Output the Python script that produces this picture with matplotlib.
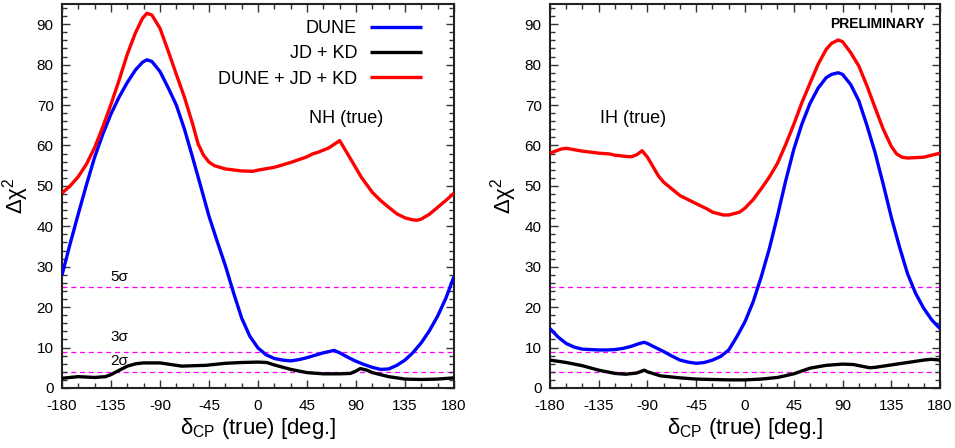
import matplotlib
matplotlib.use("Agg")
import matplotlib.pyplot as plt
from matplotlib.ticker import MultipleLocator

plt.rcParams['font.family'] = ['Liberation Sans', 'DejaVu Sans']
plt.rcParams['mathtext.fontset'] = 'custom'
plt.rcParams['mathtext.rm'] = 'Liberation Sans'
plt.rcParams['mathtext.it'] = 'Liberation Sans:italic'
plt.rcParams['axes.unicode_minus'] = False

# ---------------- data ----------------
# NH (true)
nh_dune_x = [-180, -172.5, -165, -157.5, -150, -142.5, -135, -127.5, -120, -112.5, -106, -102, -97.5, -90,
             -82.5, -75, -67.5, -60, -52.5, -45, -37.5, -30, -22.5, -15, -7.5, 0,
             7.5, 15, 22.5, 30, 37.5, 45, 52.5, 60, 65, 70, 75, 82.5, 90, 97.5, 105, 112.5, 120,
             127.5, 135, 142.5, 150, 157.5, 165, 172.5, 180]
nh_dune_y = [27.9, 35.7, 43.1, 50.3, 57.1, 62.8, 67.8, 72.0, 75.6, 78.7, 80.6, 81.2, 80.8, 78.3,
             74.3, 70.0, 64.0, 57.0, 49.8, 42.5, 36.3, 30.3, 23.6, 17.3, 12.8, 9.9,
             8.2, 7.3, 6.9, 6.7, 7.0, 7.5, 8.1, 8.7, 9.0, 9.3, 8.7, 7.6, 6.6, 5.8, 5.1, 4.6, 4.7,
             5.6, 6.9, 8.8, 11.2, 14.2, 17.8, 22.2, 27.6]

nh_comb_x = [-180, -172.5, -165, -157.5, -150, -142.5, -135, -127.5, -120, -112.5, -106, -102, -97.5, -90,
             -82.5, -75, -67.5, -60, -55, -50, -45, -40, -30, -15, -5, 0,
             15, 30, 45, 50, 55, 65, 75, 83, 90, 95, 105, 112.5, 120, 127.5, 135, 142, 146, 150,
             157.5, 165, 172.5, 180]
nh_comb_y = [48.2, 50.0, 52.3, 55.4, 59.5, 64.6, 70.2, 76.2, 82.6, 87.9, 91.5, 92.7, 92.3, 89.0,
             83.4, 77.6, 71.9, 65.3, 60.4, 57.6, 55.9, 55.0, 54.2, 53.7, 53.6, 53.9,
             54.6, 55.8, 57.2, 57.9, 58.3, 59.4, 61.2, 57.6, 54.4, 52.1, 48.4, 46.4, 44.7, 43.1, 42.1, 41.6, 41.5, 41.8,
             43.0, 44.7, 46.4, 48.2]

nh_jdkd_x = [-180, -165, -150, -140, -135, -128, -120, -112, -105, -90, -80, -70, -60, -48, -30, -15, 0, 8,
             15, 30, 45, 60, 75, 85, 90, 94, 100, 105, 120, 135, 150, 165, 180]
nh_jdkd_y = [2.4, 2.8, 2.6, 2.8, 3.3, 4.3, 5.4, 6.0, 6.2, 6.2, 5.8, 5.4, 5.5, 5.6, 6.1, 6.3, 6.4, 6.3,
             5.7, 4.6, 3.8, 3.5, 3.5, 3.6, 4.2, 4.8, 4.4, 3.8, 2.8, 2.2, 2.1, 2.2, 2.5]

# IH (true)
ih_dune_x = [-180, -172.5, -165, -157.5, -150, -142.5, -135, -127.5, -120, -112.5, -105, -97.5, -93, -90,
             -82.5, -75, -67.5, -60, -52.5, -45, -37.5, -30, -22.5, -15, -7.5, 0,
             7.5, 15, 22.5, 30, 37.5, 45, 52.5, 60, 67.5, 75, 80, 86, 90, 97.5, 105, 112.5, 120,
             127.5, 135, 142.5, 150, 157.5, 165, 172.5, 180]
ih_dune_y = [14.7, 12.6, 11.0, 10.1, 9.6, 9.5, 9.4, 9.4, 9.5, 9.8, 10.3, 11.0, 11.3, 11.0,
             10.0, 9.0, 7.9, 6.9, 6.4, 6.1, 6.3, 6.9, 7.8, 9.4, 12.7, 16.4,
             21.3, 27.5, 34.5, 42.6, 51.2, 59.0, 65.3, 70.4, 74.2, 76.8, 77.6, 78.0, 77.6, 75.1, 71.1, 65.0, 58.3,
             50.5, 42.3, 35.0, 28.3, 23.4, 19.7, 16.8, 14.7]

ih_comb_x = [-180, -170, -165, -150, -135, -125, -120, -110, -105, -100, -95, -90, -80, -75, -60, -45, -35,
             -30, -20, -15, -5, 0, 7.5, 15, 22.5, 30, 37.5, 45, 52.5, 60, 67.5, 75, 80, 86, 90, 97.5, 105,
             112.5, 120, 127.5, 135, 140, 145, 150, 165, 180]
ih_comb_y = [58.1, 59.1, 59.3, 58.6, 58.1, 57.9, 57.6, 57.3, 57.2, 57.7, 58.7, 57.1, 52.5, 50.9, 47.6, 45.6, 44.3,
             43.5, 42.8, 42.8, 43.5, 44.5, 46.6, 49.3, 52.2, 55.6, 60.2, 65.2, 70.6, 75.4, 80.1, 83.8, 85.3, 86.1, 85.7, 83.0, 79.7,
             74.8, 69.4, 64.1, 59.8, 57.9, 57.1, 56.9, 57.1, 58.1]

ih_jdkd_x = [-180, -165, -150, -135, -120, -110, -100, -93, -90, -78, -60, -45, -30, -15, 0, 15, 30, 45,
             60, 75, 90, 100, 115, 120, 135, 150, 165, 172, 180]
ih_jdkd_y = [6.9, 6.3, 5.5, 4.4, 3.6, 3.4, 3.7, 4.4, 4.0, 3.0, 2.5, 2.2, 2.1, 2.0, 2.0, 2.2, 2.6, 3.5,
             4.9, 5.6, 5.9, 5.8, 5.0, 5.1, 5.7, 6.3, 6.9, 7.1, 6.9]

sigma_levels = [4, 9, 25]
sigma_labels = ['2σ', '3σ', '5σ']
xticks = [-180, -135, -90, -45, 0, 45, 90, 135, 180]
yticks = [0, 10, 20, 30, 40, 50, 60, 70, 80, 90]
series_labels = ['DUNE', 'JD + KD', 'DUNE + JD + KD']
series_colors = ['#0000ff', '#000000', '#ff0000']

# ---------------- figure ----------------
fig = plt.figure(figsize=(9.55, 4.48), dpi=100)
ax1 = fig.add_axes([0.0649, 0.134, 0.4105, 0.857])
ax2 = fig.add_axes([0.5759, 0.134, 0.4084, 0.857])


def style(ax):
    ax.set_xlim(-180, 180)
    ax.set_ylim(0, 95)
    ax.set_xticks(xticks)
    ax.set_yticks(yticks)
    ax.xaxis.set_minor_locator(MultipleLocator(15))
    ax.yaxis.set_minor_locator(MultipleLocator(2))
    ax.tick_params(which='both', direction='in', top=True, right=True, width=1.0, color='#333333')
    ax.tick_params(which='major', length=6, labelsize=11)
    ax.tick_params(which='minor', length=3.5)
    ax.tick_params(axis='x', pad=8)
    ax.tick_params(axis='y', pad=6)
    for s in ax.spines.values():
        s.set_linewidth(1.5)
        s.set_color('#222222')
    for lv in sigma_levels:
        ax.axhline(lv, color='#ff00ff', lw=0.9, ls=(0, (4, 3)), zorder=1)
    ax.set_xlabel(r'δ$_{\mathrm{CP}}$ (true) [deg.]', fontsize=16, labelpad=2)
    ax.set_ylabel(r'Δχ$^{2}$', fontsize=16, labelpad=4)


for ax, data in [(ax1, [(nh_dune_x, nh_dune_y), (nh_jdkd_x, nh_jdkd_y), (nh_comb_x, nh_comb_y)]),
                 (ax2, [(ih_dune_x, ih_dune_y), (ih_jdkd_x, ih_jdkd_y), (ih_comb_x, ih_comb_y)])]:
    style(ax)
    for (xx, yy), lab, col in zip(data, series_labels, series_colors):
        ax.plot(xx, yy, color=col, lw=2.4, label=lab, zorder=3,
                solid_joinstyle='round', solid_capstyle='butt')

leg = ax1.legend(loc='upper right', frameon=False, markerfirst=False, fontsize=13,
                 handlelength=2.9, handletextpad=0.7, labelspacing=0.45,
                 bbox_to_anchor=(0.96, 1.0))

ax1.text(81, 66.7, 'NH (true)', fontsize=13, ha='center', va='center')
ax2.text(-103, 66.7, 'IH (true)', fontsize=13, ha='center', va='center')

sig_y = [6.6, 12.6, 27.4]
for lab, yv in zip(sigma_labels, sig_y):
    ax1.text(-127.6, yv, lab, fontsize=11, ha='center', va='center')

ax2.text(166, 90, 'PRELIMINARY', fontsize=10, fontweight='bold', ha='right', va='center')

fig.savefig('out.png', dpi=100)
